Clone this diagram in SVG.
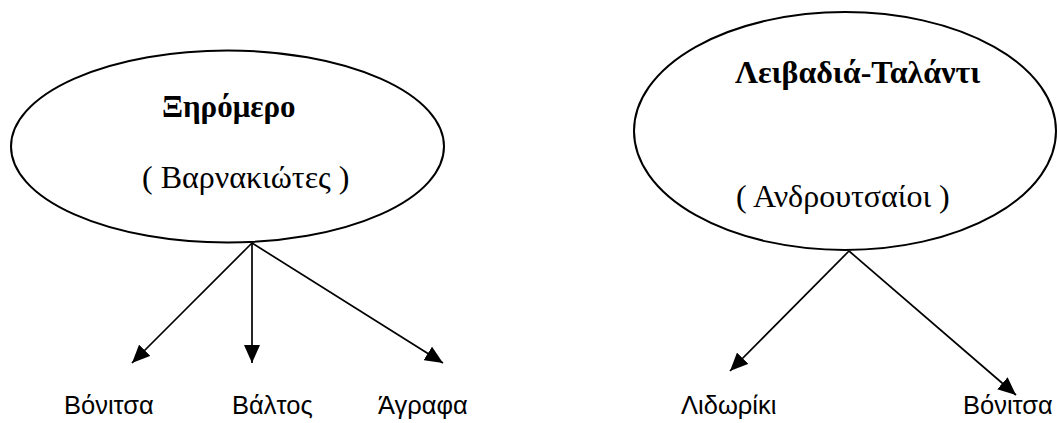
<svg xmlns="http://www.w3.org/2000/svg" width="1057" height="423" viewBox="0 0 1057 423">
<style>
.node ellipse{fill:none;stroke:#000;stroke-width:2}
.title{font-family:"Liberation Serif","Times New Roman",serif;font-size:32px;font-weight:bold;fill:#000}
.sub{font-family:"Liberation Serif","Times New Roman",serif;font-size:32px;fill:#000}
.lbl{font-family:"Liberation Sans",Arial,sans-serif;font-size:25.5px;fill:#000}
.conn line{stroke:#000;stroke-width:1.7;marker-end:url(#arr)}
</style>
<defs>
<marker id="arr" markerUnits="userSpaceOnUse" markerWidth="18" markerHeight="16" refX="18" refY="8" orient="auto">
<path d="M0,0 L18,8 L0,16 z" fill="#000"/>
</marker>
</defs>
<rect width="1057" height="423" fill="#fff"/>
<g id="xiromero" class="node">
<ellipse cx="227.5" cy="146.5" rx="216.5" ry="96"/>
<text class="title" x="162" y="117" style="font-size:31px">Ξηρόμερο</text>
<text class="sub" x="142" y="188">( Βαρνακιώτες )</text>
</g>
<g id="livadia" class="node">
<ellipse cx="845" cy="131" rx="211" ry="119"/>
<text class="title" x="735" y="83">Λειβαδιά-Ταλάντι</text>
<text class="sub" x="736" y="207">( Ανδρουτσαίοι )</text>
</g>
<g id="vonitsa1"><text class="lbl" x="64" y="414">Βόνιτσα</text></g>
<g id="valtos"><text class="lbl" x="232" y="414">Βάλτος</text></g>
<g id="agrafa"><text class="lbl" x="378" y="414">Άγραφα</text></g>
<g id="lidoriki"><text class="lbl" x="681" y="414">Λιδωρίκι</text></g>
<g id="vonitsa2"><text class="lbl" x="963" y="414">Βόνιτσα</text></g>
<g id="connectors" class="conn">
<line x1="252" y1="243" x2="132" y2="363"/>
<line x1="252" y1="243" x2="252" y2="363"/>
<line x1="252" y1="243" x2="443" y2="363"/>
<line x1="849" y1="251" x2="730" y2="371"/>
<line x1="849" y1="251" x2="1016" y2="395"/>
</g>
</svg>
